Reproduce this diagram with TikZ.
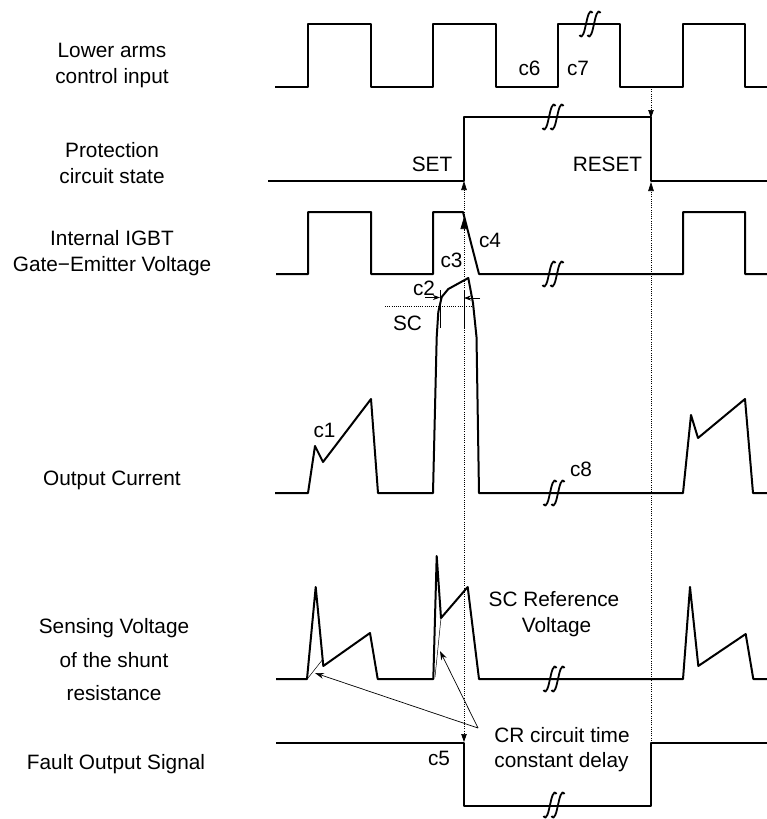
\documentclass[tikz,border=0pt]{standalone}
\usepackage{fontspec}
\setmainfont{Liberation Sans}
\usetikzlibrary{arrows.meta}
\begin{document}
\begin{tikzpicture}[x=1pt,y=-1pt,
  wave/.style={line width=2pt,line join=round},
  thinln/.style={line width=0.7pt},
  dotln/.style={line width=0.7pt,dash pattern=on 1pt off 1.2pt},
  lbl/.style={anchor=base,inner sep=0pt,font=\fontsize{20.8}{24}\selectfont},
  brk/.pic={
    \foreach \d in {-4,4}{
      \draw[line width=1.8pt,line cap=butt]
        (\d+6.5,-11) .. controls (\d+3.5,-16) and (\d+1.5,-7) .. (\d,0)
        .. controls (\d-1.5,7) and (\d-3.5,16) .. (\d-6.5,11);
    }
  }]
\useasboundingbox (0,0) rectangle (767,819);

% left labels
\node[lbl] (l1a) at (112,57) {Lower arms};
\node[lbl] (l1b) at (112,83) {control input};
\node[lbl] (l2a) at (112,157.5) {Protection};
\node[lbl] (l2b) at (112,183) {circuit state};
\node[lbl] (l3a) at (112,245) {Internal IGBT};
\node[lbl] (l3b) at (112,271.5) {Gate−Emitter Voltage};
\node[lbl] (l4) at (112,485) {Output Current};
\node[lbl] (l5a) at (114,633.5) {Sensing Voltage};
\node[lbl] (l5b) at (114,667.5) {of the shunt};
\node[lbl] (l5c) at (114,700.5) {resistance};
\node[lbl] (l6) at (116,769.5) {Fault Output Signal};

% waveforms
\draw[wave] (275,87)--(308,87)--(308,24)--(371,24)--(371,87)--(433,87)--(433,24)--(496,24)--(496,87)
  --(558,87)--(558,24)--(620,24)--(620,87)--(683,87)--(683,24)--(745,24)--(745,87)--(767,87);
\draw[wave] (268,181)--(464,181)--(464,117)--(651,117)--(651,181)--(767,181);
\draw[wave] (276,274)--(308,274)--(308,212)--(371,212)--(371,274)--(433,274)--(433,212)--(463,212)
  --(479,274)--(683,274)--(683,212)--(745,212)--(745,274)--(767,274);
\draw[wave] (275,493)--(308,493)--(315,446)--(323,462)--(371,399)--(378,493)--(433,493)
  --(436.7,337)--(438.3,312)--(441.7,297)--(448.3,289)--(468.3,278)--(473,303)--(476.5,337)--(479,493)
  --(683,493)--(691,415)--(698,438)--(745,399)--(753,493)--(767,493);
\draw[wave] (276,679)--(307,679)--(315.7,587)--(323.3,666)--(370,633)--(377.7,679)--(433.3,679)
  --(436.7,556)--(441,618)--(467.7,587)--(479,679)--(683,679)--(690,587)--(698.3,666)--(745.7,634)
  --(753.3,679)--(767,679);
\draw[wave] (276,743)--(464,743)--(464,806)--(651,806)--(651,743)--(767,743);

% break marks
\pic at (590,24) {brk};
\pic at (553,117) {brk};
\pic at (553,274) {brk};
\pic at (554,493) {brk};
\pic at (554,679) {brk};
\pic at (554,805) {brk};

% named points for connectors
\coordinate (setA) at (464,181);
\coordinate (gtop) at (464,217);
\coordinate (tickT) at (464,290);
\coordinate (tickB) at (464,328);
\coordinate (fltA) at (464,742);
\coordinate (rstTop) at (651,87);
\coordinate (rstA) at (651,118);
\coordinate (rstB) at (651,182);
\coordinate (fltB) at (651,743);
\coordinate (ltT) at (440,290);
\coordinate (ltB) at (440,328);
\coordinate (c2L) at (425,297.5);
\coordinate (c2La) at (440,297.5);
\coordinate (c2R) at (480,298);
\coordinate (c2Ra) at (464,298);
\coordinate (scL) at (385,306);
\coordinate (scR) at (473,306);
\coordinate (cr) at (478,728);
\coordinate (crA) at (315,673);
\coordinate (crB) at (440,651);
\coordinate (f1a) at (308,678);
\coordinate (f1b) at (323,659);
\coordinate (f2a) at (435,677);
\coordinate (f2b) at (441,618);

% dotted timing lines
\draw[dotln,-{Triangle[length=9pt,width=5.5pt]}] (gtop) -- (setA);
\draw[dotln,-{Triangle[length=12pt,width=7pt]}] (tickB) -- (gtop);
\draw[dotln,-{Triangle[length=8pt,width=5.5pt]}] (tickB) -- (fltA);
\draw[dotln,-{Triangle[length=8pt,width=5.5pt]}] (rstTop) -- (rstA);
\draw[dotln,-{Triangle[length=9pt,width=5.5pt]}] (fltB) -- (rstB);
\draw[dotln] (scL) -- (scR);

% ticks and c2 arrows
\draw[thinln] (tickT) -- (tickB);
\draw[thinln] (ltT) -- (ltB);
\draw[thinln,-{Stealth[length=7pt,width=5pt]}] (c2L) -- (c2La);
\draw[thinln,-{Stealth[length=7pt,width=5pt]}] (c2R) -- (c2Ra);

% filtered (CR) rise lines and arrows
\draw[line width=0.5pt] (f1a) -- (f1b);
\draw[line width=0.5pt] (f2a) -- (f2b);
\draw[thinln,-{Stealth[length=9pt,width=6pt]}] (cr) -- (crA);
\draw[thinln,-{Stealth[length=9pt,width=6pt]}] (cr) -- (crB);

% annotation labels
\node[lbl] (c6) at (529.5,75) {c6};
\node[lbl] (c7) at (578,75) {c7};
\node[lbl] (set) at (432,171) {SET};
\node[lbl] (reset) at (607.5,171) {RESET};
\node[lbl] (c4) at (490,247) {c4};
\node[lbl] (c3) at (451.5,267) {c3};
\node[lbl] (c2) at (424,295) {c2};
\node[lbl] (sc) at (407.5,330) {SC};
\node[lbl] (c1) at (324.5,437) {c1};
\node[lbl] (c8) at (581,476) {c8};
\node[lbl] (scref1) at (554,606) {SC Reference};
\node[lbl] (scref2) at (556.5,632.5) {Voltage};
\node[lbl] (crl1) at (562,742.5) {CR circuit time};
\node[lbl] (crl2) at (561.5,767) {constant delay};
\node[lbl] (c5) at (439,765) {c5};
\end{tikzpicture}
\end{document}
